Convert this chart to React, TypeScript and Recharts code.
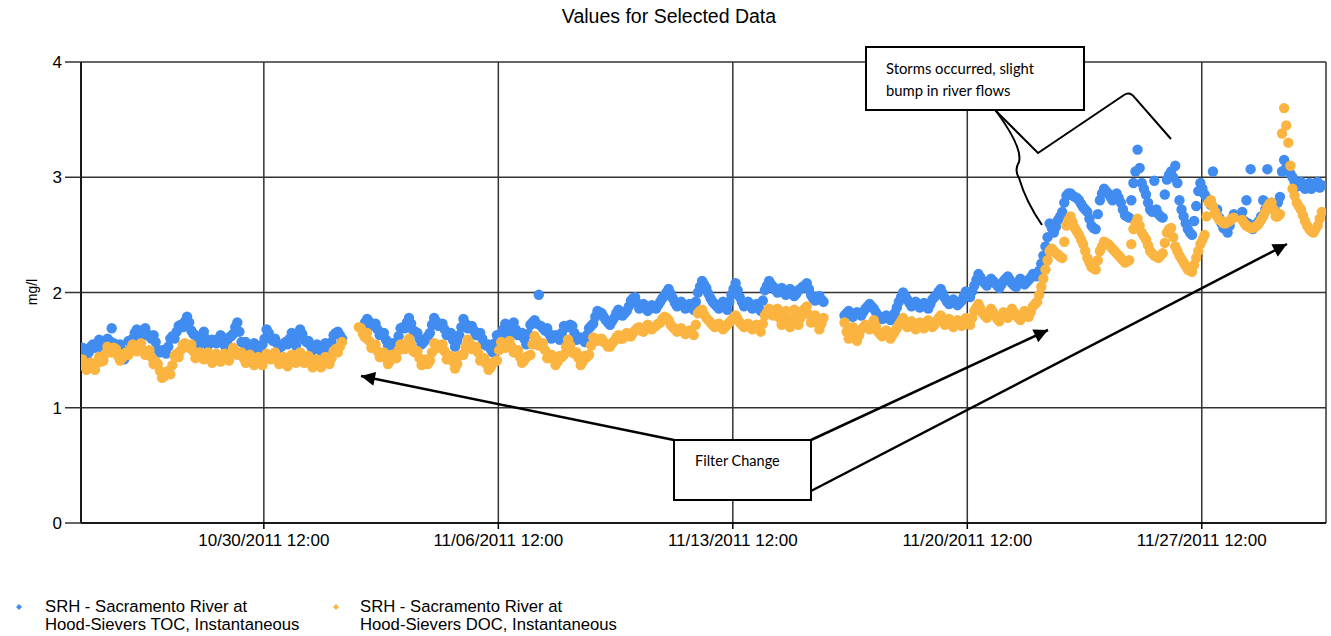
import React from 'react';
import { ScatterChart, Scatter, XAxis, YAxis, CartesianGrid } from 'recharts';

// x values are hours since 10/25/2011 00:00; main readings every 3 hours,
// the *_MID arrays hold the readings that fall half way between them
const START_HOUR = 2;
const STEP_HOURS = 3;
const MID_OFFSET = 1.5;

const X_TICKS = [132, 300, 468, 636, 804];
const X_TICK_LABELS = ['10/30/2011 12:00', '11/06/2011 12:00', '11/13/2011 12:00', '11/20/2011 12:00', '11/27/2011 12:00'];
const Y_TICKS = [0, 1, 2, 3, 4];

const TITLE = 'Values for Selected Data';
const Y_LABEL = 'mg/l';
const SERIES_NAMES = [
  ['SRH - Sacramento River at', 'Hood-Sievers TOC, Instantaneous'],
  ['SRH - Sacramento River at', 'Hood-Sievers DOC, Instantaneous'],
];
const COLORS = ['#418CF0', '#FCB441'];

const TOC = [
  1.52, 1.45, 1.53, 1.52, 1.59, 1.51, 1.60, 1.69, 1.52, 1.55,
  1.42, 1.58, 1.60, 1.68, 1.61, 1.69, 1.62, 1.63, 1.50, 1.50,
  1.47, 1.60, 1.60, 1.71, 1.70, 1.79, 1.67, 1.63, 1.55, 1.66,
  1.54, 1.59, 1.56, 1.63, 1.54, 1.61, 1.64, 1.74, 1.57, 1.57,
  1.50, 1.56, 1.49, 1.55, 1.68, 1.60, 1.60, 1.52, 1.55, 1.55,
  1.65, 1.54, 1.68, 1.59, 1.58, 1.50, 1.55, 1.49, 1.56, 1.52,
  1.63, 1.66, 1.60, null, null, null, null, 1.69, 1.77, 1.72,
  1.73, 1.63, 1.65, 1.54, 1.56, 1.55, 1.69, 1.69, 1.78, 1.67,
  1.65, 1.55, 1.59, 1.65, 1.78, 1.71, 1.73, 1.63, 1.65, 1.53,
  1.63, 1.77, 1.69, 1.71, 1.63, 1.65, 1.55, 1.55, 1.48, 1.63,
  1.63, 1.73, 1.65, 1.74, 1.63, 1.65, 1.55, 1.72, 1.76, 1.98,
  1.69, 1.69, 1.60, 1.63, 1.59, 1.71, 1.70, 1.71, 1.59, 1.61,
  1.57, 1.69, 1.73, 1.84, 1.82, 1.76, 1.72, 1.78, 1.85, 1.80,
  1.84, 1.93, 1.96, 1.86, 1.90, 1.84, 1.89, 1.86, 1.92, 1.97,
  2.03, 1.95, 1.88, 1.92, 1.86, 1.90, 1.85, 2.00, 2.10, 2.04,
  1.95, 1.90, 1.86, 1.92, 1.85, 1.98, 2.08, 1.96, 1.88, 1.92,
  1.86, 1.90, 1.84, 2.02, 2.10, 2.05, 2.00, 2.04, 1.98, 2.03,
  1.97, 2.02, 2.05, 2.08, 1.98, 1.93, 1.97, 1.92, null, null,
  null, null, 1.80, 1.84, 1.79, 1.83, 1.80, 1.86, 1.90, 1.86,
  1.80, 1.77, 1.80, 1.76, 1.82, 1.92, 2.00, 1.94, 1.88, 1.92,
  1.87, 1.91, 1.86, 1.94, 1.98, 2.03, 1.95, 1.90, 1.94, 1.89,
  1.93, 2.01, 1.96, 2.06, 2.16, 2.10, 2.06, 2.12, 2.08, 2.04,
  2.10, 2.14, 2.08, 2.05, 2.12, 2.07, 2.11, 2.16, 2.14, 2.25,
  2.40, 2.60, 2.52, 2.63, 2.70, 2.84, 2.86, 2.83, 2.80, 2.74,
  2.70, 2.58, 2.55, 2.80, 2.90, 2.86, 2.80, 2.86, 2.78, 2.67,
  2.65, 2.95, 3.24, 2.95, 2.85, 2.72, 2.97, 2.68, 2.65, 2.98,
  3.05, 3.10, 2.80, 2.66, 2.55, 2.50, 2.75, 2.95, 2.85, 2.80,
  3.05, 2.72, 2.60, 2.55, 2.58, 2.68, null, 2.70, 2.80, 3.07,
  2.58, 2.62, 2.80, 3.07, 2.78, 2.70, 2.83, 3.15, 3.10, 3.00,
  2.92, 2.96, 2.90, 2.95, 2.92, 2.96, 2.93,
];

const TOC_MID = [
  1.50, 1.48, 1.55, 1.54, 1.56, 1.54, 1.58, 1.56, 1.51, 1.50,
  1.49, 1.56, 1.65, 1.63, 1.66, 1.64, 1.60, 1.57, 1.48, 1.50,
  1.53, 1.62, 1.66, 1.72, 1.75, 1.74, 1.64, 1.58, 1.61, 1.60,
  1.57, 1.58, 1.60, 1.58, 1.57, 1.62, 1.70, 1.66, 1.56, 1.54,
  1.52, 1.53, 1.51, 1.60, 1.65, 1.58, 1.56, 1.53, 1.57, 1.60,
  1.59, 1.62, 1.64, 1.57, 1.54, 1.52, 1.53, 1.51, 1.55, 1.57,
  1.65, 1.63, null, null, null, null, null, 1.74, 1.75, 1.71,
  1.68, 1.64, 1.59, 1.55, 1.54, 1.62, 1.70, 1.74, 1.73, 1.66,
  1.60, 1.57, 1.62, 1.72, 1.75, 1.72, 1.68, 1.64, 1.59, 1.58,
  1.70, 1.73, 1.70, 1.67, 1.64, 1.60, 1.54, 1.51, 1.56, 1.62,
  1.68, 1.69, 1.70, 1.68, 1.64, 1.60, 1.64, 1.74, 1.73, 1.71,
  1.67, 1.64, 1.61, 1.61, 1.65, 1.70, 1.72, 1.65, 1.60, 1.59,
  1.63, 1.71, 1.79, 1.83, 1.79, 1.74, 1.75, 1.82, 1.83, 1.82,
  1.88, 1.95, 1.91, 1.88, 1.87, 1.86, 1.88, 1.89, 1.95, 2.00,
  1.99, 1.91, 1.90, 1.89, 1.88, 1.87, 1.92, 2.05, 2.07, 1.99,
  1.92, 1.88, 1.89, 1.88, 1.92, 2.03, 2.02, 1.92, 1.90, 1.89,
  1.88, 1.87, 1.93, 2.06, 2.07, 2.02, 2.02, 2.01, 2.00, 2.00,
  1.99, 2.03, 2.06, 2.03, 1.95, 1.95, 1.94, null, null, null,
  null, null, 1.82, 1.81, 1.81, 1.82, 1.83, 1.88, 1.88, 1.83,
  1.78, 1.79, 1.78, 1.79, 1.87, 1.96, 1.97, 1.91, 1.90, 1.89,
  1.89, 1.88, 1.90, 1.96, 2.01, 1.99, 1.92, 1.92, 1.91, 1.91,
  1.97, 1.98, 2.01, 2.11, 2.13, 2.08, 2.09, 2.10, 2.06, 2.07,
  2.12, 2.11, 2.06, 2.09, 2.09, 2.09, 2.13, 2.15, 2.19, 2.32,
  2.48, 2.56, 2.57, 2.66, 2.78, 2.86, 2.84, 2.82, 2.77, 2.72,
  2.64, 2.56, 2.68, 2.86, 2.88, 2.83, 2.83, 2.82, 2.72, 2.66,
  2.80, 3.05, 3.08, 2.90, 2.78, 2.70, 2.72, 2.66, 2.85, 3.02,
  3.00, 2.95, 2.72, 2.60, 2.52, 2.62, 2.88, 2.90, 2.82, 2.76,
  2.72, 2.65, 2.56, 2.52, 2.64, null, null, 2.62, 2.60, 2.55,
  2.60, 2.66, 2.72, 2.75, 2.74, 2.78, 3.05, 3.08, 3.03, 2.96,
  2.94, 2.92, 2.93, 2.90, 2.95, 2.91,
];

const DOC = [
  1.42, 1.33, 1.39, 1.33, 1.44, 1.41, 1.53, 1.48, 1.51, 1.41,
  1.47, 1.46, 1.55, 1.49, 1.56, 1.46, 1.50, 1.38, 1.38, 1.26,
  1.31, 1.29, 1.45, 1.44, 1.55, 1.53, 1.55, 1.43, 1.48, 1.42,
  1.48, 1.39, 1.47, 1.40, 1.47, 1.41, 1.52, 1.46, 1.48, 1.39,
  1.46, 1.37, 1.44, 1.37, 1.47, 1.42, 1.48, 1.38, 1.44, 1.36,
  1.46, 1.39, 1.48, 1.39, 1.45, 1.35, 1.42, 1.35, 1.44, 1.38,
  1.49, 1.48, 1.57, null, null, null, 1.70, 1.64, 1.65, 1.52,
  1.55, 1.44, 1.48, 1.38, 1.46, 1.43, 1.55, 1.51, 1.60, 1.49,
  1.49, 1.37, 1.42, 1.41, 1.56, 1.52, 1.55, 1.42, 1.45, 1.34,
  1.45, 1.46, 1.59, 1.51, 1.53, 1.41, 1.43, 1.33, 1.39, 1.41,
  1.57, 1.52, 1.58, 1.48, 1.50, 1.39, 1.44, 1.46, 1.62, 1.54,
  1.56, 1.43, 1.46, 1.37, 1.45, 1.46, 1.59, 1.48, 1.48, 1.37,
  1.45, 1.46, 1.61, 1.58, 1.60, 1.56, 1.53, 1.58, 1.63, 1.60,
  1.65, 1.62, 1.67, 1.70, 1.66, 1.72, 1.68, 1.71, 1.74, 1.79,
  1.76, 1.70, 1.66, 1.69, 1.64, 1.67, 1.63, 1.82, 1.85, 1.78,
  1.74, 1.70, 1.73, 1.68, 1.72, 1.76, 1.80, 1.74, 1.70, 1.73,
  1.68, 1.72, 1.66, 1.80, 1.86, 1.80, 1.86, 1.72, 1.84, 1.70,
  1.85, 1.72, 1.84, 1.88, 1.74, 1.80, 1.68, 1.78, null, null,
  null, null, 1.74, 1.60, 1.70, 1.58, 1.68, 1.72, 1.68, 1.76,
  1.66, 1.62, 1.67, 1.60, 1.66, 1.72, 1.78, 1.70, 1.75, 1.68,
  1.74, 1.69, 1.76, 1.70, 1.75, 1.80, 1.72, 1.77, 1.70, 1.76,
  1.71, 1.78, 1.72, 1.84, 1.90, 1.82, 1.78, 1.86, 1.80, 1.75,
  1.83, 1.78, 1.86, 1.80, 1.76, 1.84, 1.79, 1.88, 1.92, 2.05,
  2.20, 2.36, 2.36, 2.33, 2.30, 2.58, 2.66, 2.56, 2.50, 2.42,
  2.30, 2.22, 2.20, 2.36, 2.44, 2.42, 2.38, 2.34, 2.30, 2.26,
  2.28, 2.55, 2.64, 2.52, 2.46, 2.36, 2.32, 2.30, 2.34, 2.52,
  2.56, 2.40, 2.32, 2.26, 2.20, 2.18, 2.30, 2.42, 2.50, 2.78,
  2.75, 2.66, 2.62, 2.60, 2.62, 2.65, null, 2.63, 2.58, 2.56,
  2.57, 2.60, 2.66, 2.74, 2.78, 2.66, 2.68, 3.60, 3.30, 2.90,
  2.78, 2.72, 2.62, 2.55, 2.52, 2.58, 2.70,
];

const DOC_MID = [
  1.36, 1.37, 1.35, 1.39, 1.40, 1.47, 1.50, 1.52, 1.45, 1.43,
  1.48, 1.51, 1.52, 1.53, 1.50, 1.47, 1.44, 1.40, 1.32, 1.27,
  1.32, 1.37, 1.47, 1.50, 1.56, 1.52, 1.49, 1.46, 1.44, 1.45,
  1.43, 1.43, 1.43, 1.44, 1.44, 1.47, 1.49, 1.47, 1.43, 1.42,
  1.41, 1.40, 1.40, 1.42, 1.45, 1.45, 1.43, 1.41, 1.40, 1.41,
  1.42, 1.43, 1.43, 1.42, 1.40, 1.38, 1.39, 1.40, 1.41, 1.43,
  1.51, 1.53, null, null, null, null, 1.69, 1.61, 1.58, 1.54,
  1.49, 1.46, 1.43, 1.41, 1.45, 1.50, 1.53, 1.56, 1.55, 1.48,
  1.43, 1.40, 1.38, 1.48, 1.55, 1.54, 1.49, 1.44, 1.40, 1.38,
  1.46, 1.53, 1.56, 1.52, 1.48, 1.42, 1.38, 1.35, 1.40, 1.50,
  1.55, 1.56, 1.53, 1.49, 1.44, 1.41, 1.45, 1.55, 1.59, 1.55,
  1.50, 1.44, 1.42, 1.40, 1.44, 1.53, 1.54, 1.47, 1.43, 1.40,
  1.44, 1.54, 1.60, 1.59, 1.57, 1.53, 1.56, 1.61, 1.60, 1.63,
  1.62, 1.65, 1.69, 1.67, 1.69, 1.69, 1.70, 1.73, 1.77, 1.78,
  1.72, 1.68, 1.68, 1.66, 1.66, 1.65, 1.72, 1.84, 1.81, 1.76,
  1.72, 1.72, 1.70, 1.70, 1.74, 1.78, 1.77, 1.72, 1.72, 1.70,
  1.70, 1.69, 1.73, 1.83, 1.83, 1.82, 1.78, 1.78, 1.77, 1.77,
  1.78, 1.78, 1.86, 1.81, 1.77, 1.74, 1.73, null, null, null,
  null, null, 1.66, 1.65, 1.64, 1.63, 1.70, 1.70, 1.72, 1.71,
  1.64, 1.64, 1.63, 1.63, 1.69, 1.75, 1.74, 1.72, 1.71, 1.71,
  1.71, 1.72, 1.73, 1.72, 1.78, 1.76, 1.74, 1.73, 1.73, 1.73,
  1.74, 1.75, 1.78, 1.87, 1.86, 1.80, 1.82, 1.83, 1.77, 1.79,
  1.80, 1.82, 1.83, 1.78, 1.80, 1.81, 1.83, 1.90, 1.98, 2.12,
  2.28, 2.38, 2.34, 2.31, 2.44, 2.63, 2.61, 2.53, 2.46, 2.36,
  2.26, 2.21, 2.28, 2.40, 2.43, 2.40, 2.36, 2.32, 2.28, 2.27,
  2.42, 2.60, 2.58, 2.49, 2.41, 2.34, 2.31, 2.32, 2.43, 2.55,
  2.48, 2.36, 2.29, 2.23, 2.19, 2.24, 2.36, 2.46, 2.66, 2.80,
  2.70, 2.63, 2.60, 2.61, 2.64, null, null, 2.60, 2.57, 2.56,
  2.58, 2.63, 2.70, 2.77, 2.72, 2.66, 3.38, 3.45, 3.10, 2.84,
  2.75, 2.67, 2.58, 2.53, 2.55, 2.64,
];

type Pt = { t: number; v: number };

const toPoints = (values: (number | null)[], offset: number) =>
  values
    .map((v, i) => (v == null ? null : { t: START_HOUR + offset + i * STEP_HOURS, v }))
    .filter((p) => p !== null) as Pt[];

const byTime = (a: Pt, b: Pt) => a.t - b.t;
const tocData = [...toPoints(TOC, 0), ...toPoints(TOC_MID, MID_OFFSET)].sort(byTime);
const docData = [...toPoints(DOC, 0), ...toPoints(DOC_MID, MID_OFFSET)].sort(byTime);

// the source's tiny diamonds are blurred into blobs; a round dot reads the same
const makeDot = (color: string) => (props: any) => {
  const { cx, cy } = props;
  return <circle cx={cx} cy={cy} r={5.2} fill={color} />;
};

const tickLabel = (v: number) => X_TICK_LABELS[X_TICKS.indexOf(v)] ?? '';

const FONT = '"Liberation Sans", Arial, sans-serif';
const NOTE_FONT = 'Lato, "Open Sans", sans-serif';

export default function App() {
  return (
    <div style={{ position: 'relative', width: 1331, height: 636, background: '#fff', fontFamily: FONT }}>
      <style>{'body{margin:0}'}</style>
      <ScatterChart width={1331} height={636} margin={{ top: 62, right: 5, bottom: 73, left: 21 }}>
        <CartesianGrid stroke="#333" strokeWidth={1.5} />
        <XAxis
          type="number"
          dataKey="t"
          domain={[1, 893]}
          ticks={X_TICKS}
          tickFormatter={tickLabel}
          height={40}
          allowDataOverflow
          axisLine={{ stroke: '#000', strokeWidth: 1.5 }}
          tickLine={{ stroke: '#000', strokeWidth: 1.5 }}
          tickSize={6}
          tickMargin={5}
          tick={{ fill: '#000', fontSize: 17, fontFamily: FONT }}
        />
        <YAxis
          type="number"
          dataKey="v"
          domain={[0, 4]}
          ticks={Y_TICKS}
          width={60}
          axisLine={{ stroke: '#000', strokeWidth: 1.5 }}
          tickLine={{ stroke: '#333', strokeWidth: 1.5 }}
          tickSize={16}
          tickMargin={3}
          tick={{ fill: '#000', fontSize: 17, fontFamily: FONT }}
        />
        <Scatter data={tocData} fill={COLORS[0]} shape={makeDot(COLORS[0])} isAnimationActive={false} />
        <Scatter data={docData} fill={COLORS[1]} shape={makeDot(COLORS[1])} isAnimationActive={false} />
      </ScatterChart>

      <svg width={1331} height={636} style={{ position: 'absolute', left: 0, top: 0, pointerEvents: 'none' }}>
        <defs>
          <marker id="arrow" viewBox="0 0 10 10" refX="10" refY="5" markerWidth="16" markerHeight="14"
            markerUnits="userSpaceOnUse" orient="auto">
            <path d="M0,0 L10,5 L0,10 Z" fill="#000" />
          </marker>
        </defs>

        <text x={669} y={23} textAnchor="middle" fontSize={19.5} fontFamily={FONT} fill="#000">{TITLE}</text>
        <text x={0} y={0} transform="translate(37,292) rotate(-90)" textAnchor="middle" fontSize={14}
          fontFamily={FONT} fill="#000">{Y_LABEL}</text>

        {SERIES_NAMES.map((lines, k) => {
          const mx = k === 0 ? 19 : 336;
          const tx = k === 0 ? 45 : 360;
          return (
            <g key={k}>
              <path d={`M${mx},604 L${mx + 3},607 L${mx},610 L${mx - 3},607 Z`} fill={COLORS[k]} />
              <text x={tx} y={612} fontSize={16.7} fontFamily={FONT} fill="#000">{lines[0]}</text>
              <text x={tx} y={630} fontSize={16.7} fontFamily={FONT} fill="#000">{lines[1]}</text>
            </g>
          );
        })}

        {/* storm annotation */}
        <rect x={866} y={47} width={218} height={63} fill="#fff" stroke="#000" strokeWidth={2} />
        <text x={886} y={74} fontSize={14.8} fontFamily={NOTE_FONT} fill="#000">Storms occurred, slight</text>
        <text x={886} y={96} fontSize={14.8} fontFamily={NOTE_FONT} fill="#000">bump in river flows</text>
        <path d="M995,110 L1038,153 L1124,95 Q1130,91 1135,98 L1171,139" fill="none" stroke="#000" strokeWidth={2} />
        <path d="M996,111 C1010,130 1022,150 1019,162 Q1014,170 1019,178 C1024,195 1033,212 1042,225"
          fill="none" stroke="#000" strokeWidth={2} />

        {/* filter change annotation */}
        <line x1={674} y1={440} x2={361} y2={376} stroke="#000" strokeWidth={2.5} markerEnd="url(#arrow)" />
        <line x1={811} y1={440} x2={1048} y2={330} stroke="#000" strokeWidth={2.5} markerEnd="url(#arrow)" />
        <line x1={811} y1={491} x2={1287} y2={244} stroke="#000" strokeWidth={2.5} markerEnd="url(#arrow)" />
        <rect x={674} y={440} width={137} height={60} fill="#fff" stroke="#000" strokeWidth={2} />
        <text x={695} y={466} fontSize={14.5} fontFamily={NOTE_FONT} fill="#000">Filter Change</text>
      </svg>
    </div>
  );
}
